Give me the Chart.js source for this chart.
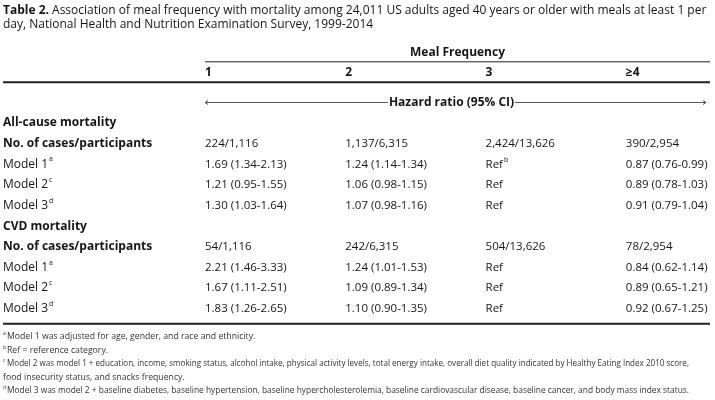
<!DOCTYPE html>
<html>
<head>
<meta charset="utf-8">
<script src="https://cdn.jsdelivr.net/npm/chart.js@4"></script>
<style>
  html, body { margin: 0; padding: 0; background: #fff; }
  #wrap { width: 715px; height: 400px; }
</style>
</head>
<body>
<div id="wrap"><canvas id="tableChart" width="715" height="400"></canvas></div>
<script>
// table content
const columns = ['1', '2', '3', '≥4'];
const rowLabels = ['All-cause mortality', 'No. of cases/participants', 'Model 1^a', 'Model 2^c', 'Model 3^d',
                   'CVD mortality', 'No. of cases/participants', 'Model 1^a', 'Model 2^c', 'Model 3^d'];
const sectionRows = [0, 5];
const col1 = ['', '224/1,116', '1.69 (1.34-2.13)', '1.21 (0.95-1.55)', '1.30 (1.03-1.64)',
              '', '54/1,116', '2.21 (1.46-3.33)', '1.67 (1.11-2.51)', '1.83 (1.26-2.65)'];
const col2 = ['', '1,137/6,315', '1.24 (1.14-1.34)', '1.06 (0.98-1.15)', '1.07 (0.98-1.16)',
              '', '242/6,315', '1.24 (1.01-1.53)', '1.09 (0.89-1.34)', '1.10 (0.90-1.35)'];
const col3 = ['', '2,424/13,626', 'Ref^b', 'Ref', 'Ref',
              '', '504/13,626', 'Ref', 'Ref', 'Ref'];
const col4 = ['', '390/2,954', '0.87 (0.76-0.99)', '0.89 (0.78-1.03)', '0.91 (0.79-1.04)',
              '', '78/2,954', '0.84 (0.62-1.14)', '0.89 (0.65-1.21)', '0.92 (0.67-1.25)'];
const titleBold = 'Table 2.';
const titleLines = [' Association of meal frequency with mortality among 24,011 US adults aged 40 years or older with meals at least 1 per',
                    'day, National Health and Nutrition Examination Survey, 1999-2014'];
const spanHeader = 'Meal Frequency';
const measureLabel = 'Hazard ratio (95% CI)';
const footnotes = [
  ['a', 'Model 1 was adjusted for age, gender, and race and ethnicity.'],
  ['b', 'Ref = reference category.'],
  ['c', 'Model 2 was model 1 + education, income, smoking status, alcohol intake, physical activity levels, total energy intake, overall diet quality indicated by Healthy Eating Index 2010 score,'],
  ['', 'food insecurity status, and snacks frequency.'],
  ['d', 'Model 3 was model 2 + baseline diabetes, baseline hypertension, baseline hypercholesterolemia, baseline cardiovascular disease, baseline cancer, and body mass index status.']
];

const FONT = '"Open Sans", "DejaVu Sans", sans-serif';
const cellColumns = [col1, col2, col3, col4];

// draw "text^sup" with a small raised superscript
function drawWithSup(ctx, str, x, y, size, weight) {
  const parts = str.split('^');
  ctx.font = weight + ' ' + size + 'px ' + FONT;
  ctx.fillText(parts[0], x, y);
  if (parts[1]) {
    const w = ctx.measureText(parts[0]).width;
    ctx.font = '400 ' + Math.round(size * 0.6) + 'px ' + FONT;
    ctx.fillText(parts[1], x + w + 1, y - size * 0.4);
  }
}

const tablePlugin = {
  id: 'tableText',
  afterDatasetsDraw(chart) {
    const ctx = chart.ctx;
    const xs = chart.scales.x, ys = chart.scales.y;
    const area = chart.chartArea;
    const hazardY = ys.getPixelForValue(-1);
    const lastY = ys.getPixelForValue(rowLabels.length - 1);
    const mid = (area.left + area.right) / 2;
    ctx.save();
    ctx.fillStyle = '#151515';
    ctx.textBaseline = 'middle';
    ctx.textAlign = 'left';

    // title
    ctx.font = '700 12px ' + FONT;
    ctx.fillText(titleBold, 3, 11);
    const bw = ctx.measureText(titleBold).width;
    ctx.font = '400 12px ' + FONT;
    ctx.fillText(titleLines[0], 3 + bw, 11);
    ctx.fillText(titleLines[1], 3, 25);

    // spanning header + column headers
    ctx.font = '700 12px ' + FONT;
    ctx.textAlign = 'center';
    ctx.fillText(spanHeader, mid, hazardY - 50);
    ctx.textAlign = 'left';
    columns.forEach((c, i) => ctx.fillText(c, xs.getPixelForValue(i + 1), hazardY - 30));

    // rules
    ctx.strokeStyle = '#222';
    ctx.lineWidth = 1;
    ctx.beginPath();
    ctx.moveTo(area.left, hazardY - 40.5); ctx.lineTo(area.right, hazardY - 40.5);
    ctx.stroke();
    ctx.lineWidth = 2;
    ctx.beginPath();
    ctx.moveTo(3, hazardY - 20); ctx.lineTo(area.right, hazardY - 20);
    ctx.moveTo(3, lastY + 15); ctx.lineTo(area.right, lastY + 15);
    ctx.stroke();

    // hazard ratio arrow row
    ctx.font = '700 12px ' + FONT;
    const hw = ctx.measureText(measureLabel).width;
    const hx = mid - 6;
    ctx.textAlign = 'center';
    ctx.fillText(measureLabel, hx, hazardY);
    ctx.strokeStyle = '#555';
    ctx.lineWidth = 1;
    const ay = Math.round(hazardY) + 0.5;
    ctx.beginPath();
    ctx.moveTo(area.left, ay); ctx.lineTo(hx - hw / 2 - 1, ay);
    ctx.moveTo(hx + hw / 2 + 1, ay); ctx.lineTo(area.right - 4, ay);
    ctx.moveTo(area.left + 3, ay - 2); ctx.lineTo(area.left, ay); ctx.lineTo(area.left + 3, ay + 2);
    ctx.moveTo(area.right - 7, ay - 2); ctx.lineTo(area.right - 4, ay); ctx.lineTo(area.right - 7, ay + 2);
    ctx.stroke();

    // row labels
    ctx.textAlign = 'left';
    rowLabels.forEach((lab, i) => {
      const bold = sectionRows.includes(i) || lab.startsWith('No.');
      drawWithSup(ctx, lab, 3, ys.getPixelForValue(i), 12, bold ? '700' : '400');
    });

    // cells, placed at each point element
    chart.data.datasets.forEach((ds, di) => {
      chart.getDatasetMeta(di).data.forEach((el, j) => {
        drawWithSup(ctx, ds.data[j].text, el.x, el.y, 11.5, '400');
      });
    });

    // footnotes
    ctx.fillStyle = '#333';
    footnotes.forEach((f, i) => {
      const y = lastY + 28 + i * 13.5;
      ctx.font = '400 5px ' + FONT;
      ctx.fillText(f[0], 3, y - 3);
      ctx.font = '400 8.7px ' + FONT;
      ctx.fillText(f[1], f[0] ? 7 : 3, y, 682);
    });
    ctx.restore();
  }
};

new Chart(document.getElementById('tableChart'), {
  type: 'scatter',
  data: {
    datasets: cellColumns.map((col, ci) => ({
      label: columns[ci],
      data: col.map((t, ri) => ({ x: ci + 1, y: ri, text: t })).filter(p => p.text !== ''),
      pointRadius: 0,
      pointHoverRadius: 0
    }))
  },
  options: {
    responsive: false,
    animation: false,
    devicePixelRatio: 1,
    layout: { padding: { left: 205, right: 5, top: 92, bottom: 81 } },
    scales: {
      x: { type: 'linear', min: 1, max: 4.6, display: false },
      y: { type: 'linear', min: -1.5, max: 9.5, reverse: true, display: false }
    },
    plugins: { legend: { display: false }, tooltip: { enabled: false } }
  },
  plugins: [tablePlugin]
});
</script>
</body>
</html>
